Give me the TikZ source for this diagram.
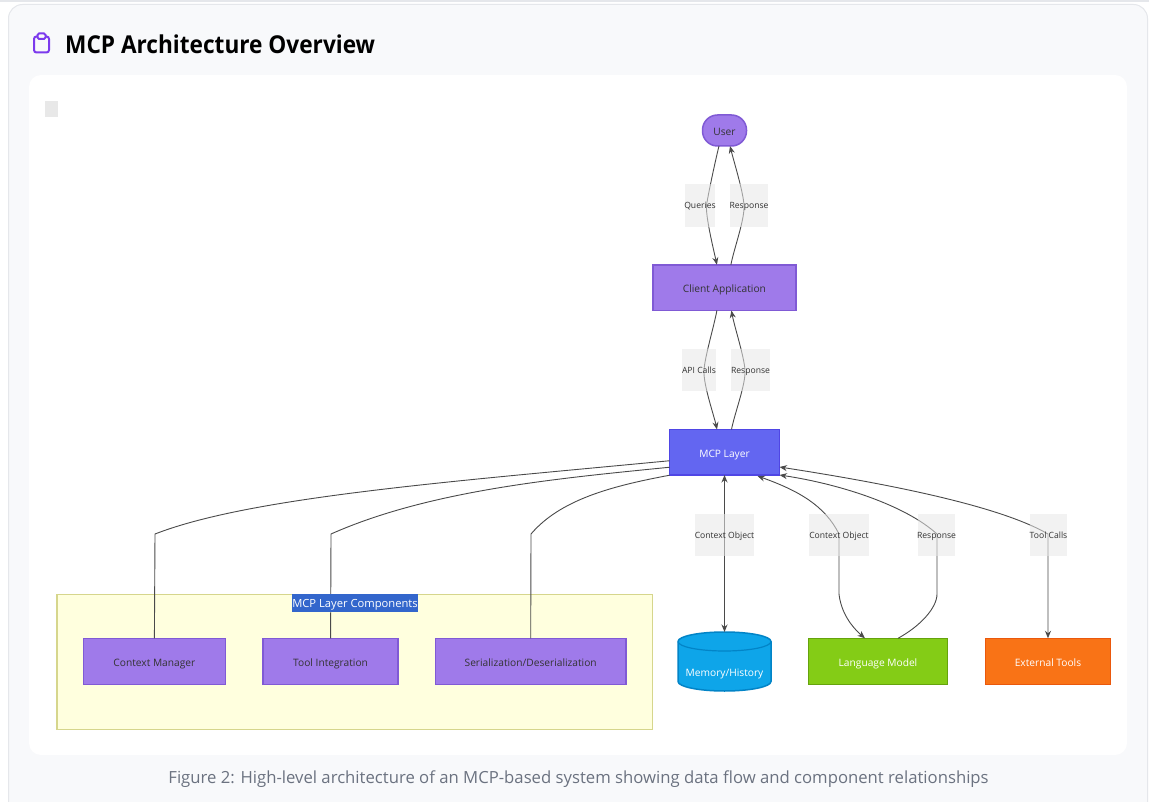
\documentclass[tikz,border=0pt]{standalone}
\usepackage{fontspec}
\setmainfont{Open Sans}
\newfontfamily\titlefont[FakeStretch=.92]{Open Sans}
\usetikzlibrary{arrows.meta,calc}
\definecolor{cardbg}{HTML}{F8F9FB}
\definecolor{cardline}{HTML}{E5E7EB}
\definecolor{purplefill}{HTML}{9F7AEA}
\definecolor{purpleline}{HTML}{805AD5}
\definecolor{indigofill}{HTML}{6366F1}
\definecolor{indigoline}{HTML}{4F46E5}
\definecolor{bluefill}{HTML}{0EA5E9}
\definecolor{blueline}{HTML}{0284C7}
\definecolor{limefill}{HTML}{84CC16}
\definecolor{limeline}{HTML}{65A30D}
\definecolor{orangefill}{HTML}{F97316}
\definecolor{orangeline}{HTML}{EA580C}
\definecolor{groupfill}{HTML}{FFFFDE}
\definecolor{groupline}{HTML}{D6D68C}
\definecolor{labelbg}{HTML}{E8E8E8}
\definecolor{edgecol}{HTML}{4A4A4A}
\definecolor{inkcol}{HTML}{333333}
\definecolor{captioncol}{HTML}{6B7280}
\definecolor{iconcol}{HTML}{7C3AED}
\definecolor{titleblue}{HTML}{3366CC}
\tikzset{
  x=1pt,y=-1pt,
  box/.style={draw=purpleline,fill=purplefill,line width=1.5pt,outer sep=0pt,text=inkcol,inner sep=0pt,
    font=\fontsize{10.2}{12}\selectfont,anchor=north west,text height=11pt,text depth=1pt},
  link/.style={draw=edgecol,line width=.9pt,-{Stealth[length=7.5pt,width=6pt]}},
  linkback/.style={draw=edgecol,line width=.9pt},
  biarrow/.style={draw=edgecol,line width=.9pt,{Stealth[length=7.5pt,width=6pt]}-{Stealth[length=7.5pt,width=6pt]}},
}
\newcommand{\boxat}[7]{% name, x0, y0, x1, y1, style, text
  \node[box,#6,minimum width=#4pt-#2pt,minimum height=#5pt-#3pt] (#1) at (#2,#3) {#7};}
\newcommand{\lab}[6]{% name, x0, y0, x1, y1, text
  \fill[labelbg,opacity=.55] (#2,#3) rectangle (#4,#5);
  \node[text=inkcol,inner sep=0pt,text height=7.5pt,text depth=1pt,font=\fontsize{8.6}{10}\selectfont] (#1) at ({(#2+#4)/2},{(#3+#5)/2}) {#6};}
\begin{document}
\begin{tikzpicture}
\useasboundingbox (0,0) rectangle (1149,802);
\fill[white] (0,0) rectangle (1149,802);
\fill[cardline] (0,0) rectangle (1149,2);
% card
\draw[cardline,fill=cardbg,line width=1pt,rounded corners=14pt] (8.5,4.5) rectangle (1147.5,830);
\fill[white,rounded corners=12pt] (29,75) rectangle (1127,755);
% heading
\node[anchor=west,inner sep=0pt,font=\fontsize{24.6}{28}\titlefont\bfseries,text=black] (heading) at (65,44) {MCP Architecture Overview};
\draw[iconcol,line width=2pt,rounded corners=2.5pt] (37.5,36.5) -- (34,36.5) -- (34,52.5) -- (49,52.5) -- (49,36.5) -- (45.5,36.5);
\draw[iconcol,line width=2pt,rounded corners=1.5pt] (37.5,33.5) rectangle (45.5,39);
\node[anchor=north west,fill=labelbg,minimum width=13pt,minimum height=16pt,inner sep=0pt] (stub) at (45,101) {};
% group
\node[anchor=north west,draw=groupline,fill=groupfill,line width=1.5pt,outer sep=0pt,minimum width=595.2pt,minimum height=135pt,inner sep=0pt] (group) at (57.2,594.3) {};
% nodes
\node[box,rounded corners=15pt,minimum width=44pt,minimum height=31pt] (user) at (702.5,115) {User};
\boxat{client}{652.8}{264.8}{796}{310.5}{}{Client Application}
\boxat{mcp}{669.5}{429.5}{779.5}{475}{draw=indigoline,fill=indigofill,text=white}{MCP Layer}
\boxat{context}{83.5}{638.3}{225.3}{684.5}{}{Context Manager}
\boxat{tool}{263.2}{638.3}{398}{684.5}{}{Tool Integration}
\boxat{serial}{435.6}{638.3}{625.8}{684.5}{}{Serialization/Deserialization}
\boxat{model}{808.3}{638.3}{947.7}{684.5}{draw=limeline,fill=limefill,text=white}{Language Model}
\boxat{external}{985.5}{638.3}{1110.5}{684.5}{draw=orangeline,fill=orangefill,text=white}{External Tools}
\node[inner sep=0pt,outer sep=0pt,minimum width=93pt,minimum height=59pt] (memory) at (724.5,661.5) {};
\draw[blueline,fill=bluefill,line width=1.5pt]
  ($(memory.north west)+(0,9.5)$) arc[start angle=180,end angle=0,x radius=46.5,y radius=-9.5]
  -- ($(memory.south east)+(0,-9.5)$) arc[start angle=0,end angle=-180,x radius=46.5,y radius=-9.5] -- cycle;
\draw[blueline,line width=1.2pt] ($(memory.north west)+(0,9.5)$) arc[start angle=180,end angle=360,x radius=46.5,y radius=-9.5];
\node[text=white,inner sep=0pt,text height=8.5pt,text depth=1.5pt,font=\fontsize{10.2}{12}\selectfont] (memorytext) at (724.5,672.5) {Memory/History};
% routing points
\coordinate (q0) at (706.5,205);
\coordinate (r0) at (744,205);
\coordinate (a0) at (704,370);
\coordinate (b0) at (745,370);
\coordinate (c1) at (155,534);
\coordinate (c2) at (331,534);
\coordinate (c3) at (531,534);
\coordinate (d1) at (839,534);
\coordinate (d2) at (839,594);
\coordinate (e1) at (937,534);
\coordinate (e2) at (937,594);
\coordinate (f1) at (1048,534);
% edges
\draw[linkback] ([xshift=-5.5pt]user.south) .. controls +(-4,16) and ($(q0)+(2,-12)$) .. (q0);
\draw[link] (q0) .. controls +(-1,12) and ($([xshift=-7.5pt]client.north)+(-3,-14)$) .. ([xshift=-7.5pt]client.north);
\draw[linkback] ([xshift=6.5pt]client.north) .. controls +(3,-16) and ($(r0)+(1,14)$) .. (r0);
\draw[link] (r0) .. controls +(-1,-14) and ($([xshift=5.5pt]user.south)+(4,16)$) .. ([xshift=5.5pt]user.south);
\draw[linkback] ([xshift=-7.5pt]client.south) .. controls +(-3,16) and ($(a0)+(1,-14)$) .. (a0);
\draw[link] (a0) .. controls +(-1,14) and ($([xshift=-7.5pt]mcp.north)+(-3,-14)$) .. ([xshift=-7.5pt]mcp.north);
\draw[linkback] ([xshift=7pt]mcp.north) .. controls +(3,-16) and ($(b0)+(1,14)$) .. (b0);
\draw[link] (b0) .. controls +(-1,-14) and ($([xshift=7pt]client.south)+(3,16)$) .. ([xshift=7pt]client.south);
\draw[linkback] ([yshift=-8.5pt]mcp.west) .. controls +(-220,21) and ($(c1)+(95,-37)$) .. (c1) -- (context.north);
\draw[linkback] ([yshift=-15pt]mcp.west) .. controls +(-110,11) and ($(c2)+(99,-44)$) .. (c2) -- (tool.north);
\draw[linkback] ([yshift=-23pt]mcp.west) .. controls +(-59,11) and ($(c3)+(29,-34)$) .. (c3) -- (serial.north);
\draw[biarrow] (mcp.south) -- (memory.north);
\draw[linkback,{Stealth[length=7.5pt,width=6pt]}-] ([xshift=33pt,yshift=-1pt]mcp.south) .. controls +(42,15) and ($(d1)+(-14,-28)$) .. (d1) -- (d2);
\draw[link] (d2) .. controls +(2,18) and ($([xshift=-13pt]model.north)+(-14,-12)$) .. ([xshift=-13pt]model.north);
\draw[linkback] ([xshift=20pt]model.north) .. controls +(22,-12) and ($(e2)+(0,14)$) .. (e2) -- (e1);
\draw[link] (e1) .. controls +(-32,-29) and ($(mcp.south east)+(60,9)$) .. (mcp.south east);
\draw[biarrow] ([yshift=8pt]mcp.south east) .. controls +(110,17) and ($(f1)+(-48,-28)$) .. (f1) -- (external.north);
% labels over edges
\lab{lq}{685}{184}{715}{227}{Queries}
\lab{lr}{730}{184}{768}{227}{Response}
\lab{la}{682}{349}{716}{391}{API Calls}
\lab{lb}{731}{349}{770}{391}{Response}
\lab{lc}{695}{514}{754}{556}{Context Object}
\lab{ld}{809}{514}{869}{556}{Context Object}
\lab{le}{918}{514}{955}{556}{Response}
\lab{lf}{1030}{514}{1067}{556}{Tool Calls}
\node[fill=titleblue,text=white,inner sep=0pt,minimum width=126pt,minimum height=18pt,text height=10pt,text depth=1.5pt,font=\fontsize{11.2}{12}\selectfont] (grouptitle) at (355,603) {MCP Layer Components};
\node[text=captioncol,inner sep=0pt,font=\fontsize{16.7}{20}\selectfont] (caption) at (578.5,779) {Figure 2: High-level architecture of an MCP-based system showing data flow and component relationships};
\end{tikzpicture}
\end{document}
